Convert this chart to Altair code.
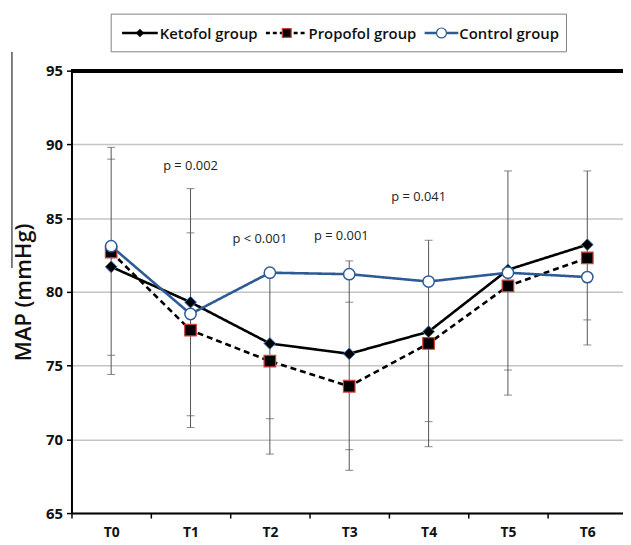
import altair as alt
import pandas as pd

times = ["T0", "T1", "T2", "T3", "T4", "T5", "T6"]
groups = ["Ketofol group", "Propofol group", "Control group"]
ketofol = [81.7, 79.3, 76.5, 75.8, 77.3, 81.5, 83.2]
propofol = [82.7, 77.4, 75.3, 73.6, 76.5, 80.4, 82.3]
control = [83.1, 78.5, 81.3, 81.2, 80.7, 81.3, 81.0]

# error-bar cap values, per time point
cap_times = ["T0", "T0", "T0", "T0",
             "T1", "T1", "T1", "T1",
             "T2", "T2", "T2",
             "T3", "T3", "T3", "T3",
             "T4", "T4", "T4",
             "T5", "T5", "T5",
             "T6", "T6", "T6"]
cap_values = [89.8, 89.0, 75.7, 74.4,
              87.0, 84.0, 71.6, 70.8,
              81.3, 71.4, 69.0,
              82.1, 79.3, 69.3, 67.9,
              83.5, 71.2, 69.5,
              88.2, 74.7, 73.0,
              88.2, 78.1, 76.4]

p_times = ["T1", "T2", "T3", "T4"]
p_y = [88.5, 83.6, 83.8, 86.4]
p_labels = ["p = 0.002", "p < 0.001", "p = 0.001", "p = 0.041"]

rows = []
for g, vals in zip(groups, [ketofol, propofol, control]):
    for t, v in zip(times, vals):
        rows.append({"time": t, "group": g, "map": v})
means = pd.DataFrame(rows)
caps = pd.DataFrame({"time": cap_times, "value": cap_values})
pdf = pd.DataFrame({"time": p_times, "y": p_y, "label": p_labels, "idx": range(4)})

FONT = "Open Sans"
line_colors = ["black", "black", "#2e5b96"]
dashes = [[1, 0], [6, 4], [1, 0]]
shapes = ["diamond", "square", "circle"]
fills = ["black", "black", "white"]
strokes = ["#3f78c0", "#d0403a", "#2e5b96"]
sizes = [140, 130, 170]
swidths = [1, 1.5, 1.5]

xscale = alt.Scale(domain=times, range=[0, 560], paddingInner=0, paddingOuter=0)
yscale = alt.Scale(domain=[65, 95], nice=False, zero=False)

xenc = alt.X("time:N", scale=xscale, sort=times,
             axis=alt.Axis(title=None, labelAngle=0, tickBand="extent",
                           labelFont=FONT, labelFontSize=14, labelFontWeight="bold",
                           labelColor="#111", labelPadding=8, tickSize=5,
                           tickColor="black", tickWidth=1.5,
                           domainColor="black", domainWidth=2, grid=False))
yaxis = alt.Axis(title="MAP (mmHg)", values=[65, 70, 75, 80, 85, 90, 95],
                 labelFont=FONT, labelFontSize=15, labelFontWeight="bold",
                 labelColor="#111", labelPadding=4, tickSize=5,
                 tickColor="black", tickWidth=1.5,
                 domainColor="black", domainWidth=2,
                 gridColor="#c4c4c4", gridWidth=1.5,
                 titleFont=FONT, titleFontSize=22, titleFontWeight=600,
                 titleColor="#111", titlePadding=10)

base = alt.Chart(means)

err_rule = alt.Chart(caps).mark_rule(color="#555", strokeWidth=1).encode(
    x=xenc,
    y=alt.Y("min(value):Q", scale=yscale, axis=yaxis),
    y2="max(value):Q",
)
err_tick = alt.Chart(caps).mark_tick(color="#555", thickness=1, size=8).encode(
    x=alt.X("time:N", scale=xscale, sort=times),
    y=alt.Y("value:Q", scale=yscale),
)

lines = base.mark_line(strokeWidth=2.6).encode(
    x=alt.X("time:N", scale=xscale, sort=times),
    y=alt.Y("map:Q", scale=yscale),
    color=alt.Color("group:N", scale=alt.Scale(domain=groups, range=line_colors), legend=None),
    strokeDash=alt.StrokeDash("group:N", scale=alt.Scale(domain=groups, range=dashes), legend=None),
    detail="group:N",
)

points = base.mark_point(filled=False, opacity=1).encode(
    x=alt.X("time:N", scale=xscale, sort=times),
    y=alt.Y("map:Q", scale=yscale),
    shape=alt.Shape("group:N", scale=alt.Scale(domain=groups, range=shapes), legend=None),
    fill=alt.Fill("group:N", scale=alt.Scale(domain=groups, range=fills), legend=None),
    stroke=alt.Stroke("group:N", scale=alt.Scale(domain=groups, range=strokes), legend=None),
    size=alt.Size("group:N", scale=alt.Scale(domain=groups, range=sizes), legend=None),
    strokeWidth=alt.StrokeWidth("group:N", scale=alt.Scale(domain=groups, range=swidths), legend=None),
)

top_rule = alt.Chart(means).mark_rule(color="black", strokeWidth=3).encode(
    y=alt.datum(95, scale=yscale)
)

dxs = [0, -10, -8, -10]
texts = []
for i, dx in enumerate(dxs):
    texts.append(
        alt.Chart(pdf).transform_filter(alt.datum.idx == i).mark_text(
            font=FONT, fontSize=13, color="#222", dx=dx
        ).encode(
            x=alt.X("time:N", scale=xscale, sort=times),
            y=alt.Y("y:Q", scale=yscale),
            text="label:N",
        )
    )

# hand-built legend box (positions in pixels relative to the plot area)
LEG_Y = -38
leg_layers = []
one = pd.DataFrame({"k": [0]})
leg_layers.append(
    alt.Chart(one).mark_rect(fill="white", stroke="#808080", strokeWidth=1).encode(
        x=alt.value(40), x2=alt.value(499), y=alt.value(-57), y2=alt.value(-19)
    )
)
leg_line_x = [(51, 87), (196, 236), (356, 390)]
leg_marker_x = [69, 217, 373]
leg_label_x = [89, 239, 391]
leg_dash = [[1, 0], [4, 3], [1, 0]]
leg_msize = [45, 80, 100]
for i, g in enumerate(groups):
    df = pd.DataFrame({"label": [g]})
    leg_layers.append(
        alt.Chart(df).mark_rule(color=line_colors[i], strokeWidth=2.6, strokeDash=leg_dash[i]).encode(
            x=alt.value(leg_line_x[i][0]), x2=alt.value(leg_line_x[i][1]), y=alt.value(LEG_Y)
        )
    )
    leg_layers.append(
        alt.Chart(df).mark_point(shape=shapes[i], fill=fills[i], stroke=strokes[i] if i != 0 else "black",
                                 strokeWidth=1.2, size=leg_msize[i], opacity=1, filled=False).encode(
            x=alt.value(leg_marker_x[i]), y=alt.value(LEG_Y)
        )
    )
    leg_layers.append(
        alt.Chart(df).mark_text(font=FONT, fontSize=15, fontWeight=600, color="#111",
                                align="left", baseline="middle").encode(
            x=alt.value(leg_label_x[i]), y=alt.value(LEG_Y + 1), text="label:N"
        )
    )

# thin stray vertical line seen at the far left of the reference
stray = alt.Chart(one).mark_rule(color="black", strokeWidth=1).encode(
    x=alt.value(-60), y=alt.value(-19), y2=alt.value(199)
)

chart = alt.layer(err_rule, err_tick, lines, points, top_rule, *texts, *leg_layers, stray).properties(
    width=556, height=446,
    padding={"left": 64, "top": 61, "right": 0, "bottom": 29},
    autosize=alt.AutoSizeParams(type="none"),
).configure_view(stroke=None).configure(background="white")

chart.save("out.html", embed_options={"renderer": "svg", "actions": False})
